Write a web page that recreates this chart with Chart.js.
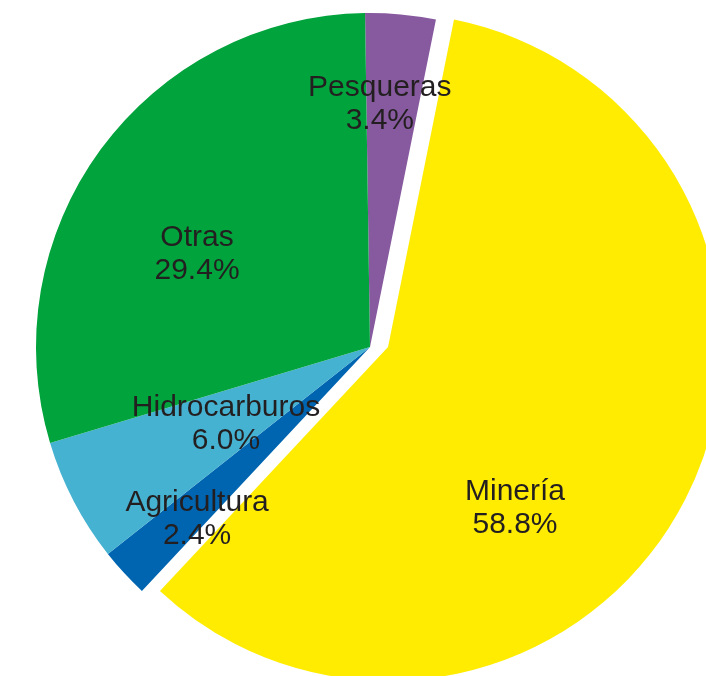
<!DOCTYPE html>
<html>
<head>
<meta charset="utf-8">
<script src="https://cdn.jsdelivr.net/npm/chart.js@4"></script>
<style>
  html, body { margin: 0; padding: 0; background: #fff; overflow: hidden; }
  #wrap { position: relative; width: 706px; height: 676px; overflow: hidden; }
  #c { position: absolute; left: 0; top: 0; }
</style>
</head>
<body>
<div id="wrap"><canvas id="c" width="740" height="694"></canvas></div>
<script>
// ---- data ----
const categories = ["Pesqueras", "Minería", "Agricultura", "Hidrocarburos", "Otras"];
const shares = [3.4, 58.8, 2.4, 6.0, 29.4];

// ---- styles ----
const colors = ["#875A9F", "#FFEC00", "#0065B1", "#46B2D2", "#00A33C"];
const explodeX = [0, 0.054, 0, 0, 0];            // horizontal shift as fraction of radius
const labelPolar = [                               // label block centre: fraction of radius, degrees clockwise from top
  { f: 0.733, a: 2.3 },
  { f: 0.645, a: 137.7 },
  { f: 0.727, a: 225.4 },
  { f: 0.486, a: 242.5 },
  { f: 0.591, a: 298.8 }
];

const explodePlugin = {
  id: 'explode',
  beforeDatasetsDraw(chart) {
    const meta = chart.getDatasetMeta(0);
    meta.data.forEach((arc, i) => {
      if (explodeX[i] && !arc._patched) {
        const orig = arc.draw;
        arc.draw = function (ctx) {
          ctx.save();
          ctx.translate(explodeX[i] * this.outerRadius, 0);
          orig.call(this, ctx);
          ctx.restore();
        };
        arc._patched = true;
      }
    });
  }
};

const labelPlugin = {
  id: 'pieLabels',
  afterDatasetsDraw(chart) {
    const meta = chart.getDatasetMeta(0);
    const ctx = chart.ctx;
    const a0 = meta.data[0];
    const cx = a0.x, cy = a0.y, r = a0.outerRadius;
    ctx.save();
    ctx.font = '30px "Liberation Sans", Arial, sans-serif';
    ctx.fillStyle = '#231F20';
    ctx.textAlign = 'center';
    ctx.textBaseline = 'middle';
    categories.forEach((name, i) => {
      const p = labelPolar[i];
      const ang = p.a * Math.PI / 180;
      const x = cx + Math.sin(ang) * p.f * r;
      const y = cy - Math.cos(ang) * p.f * r + 2;
      ctx.fillText(name, x, y - 16.5);
      ctx.fillText(shares[i].toFixed(1) + '%', x, y + 16.5);
    });
    ctx.restore();
  }
};

new Chart(document.getElementById('c'), {
  type: 'pie',
  data: {
    labels: categories,
    datasets: [{
      data: shares,
      backgroundColor: colors,
      borderWidth: 0,
      offset: 0
    }]
  },
  options: {
    responsive: false,
    animation: false,
    devicePixelRatio: 1,
    rotation: -0.85,
    layout: { padding: 13 },
    plugins: {
      legend: { display: false },
      tooltip: { enabled: false }
    }
  },
  plugins: [explodePlugin, labelPlugin]
});
</script>
</body>
</html>
